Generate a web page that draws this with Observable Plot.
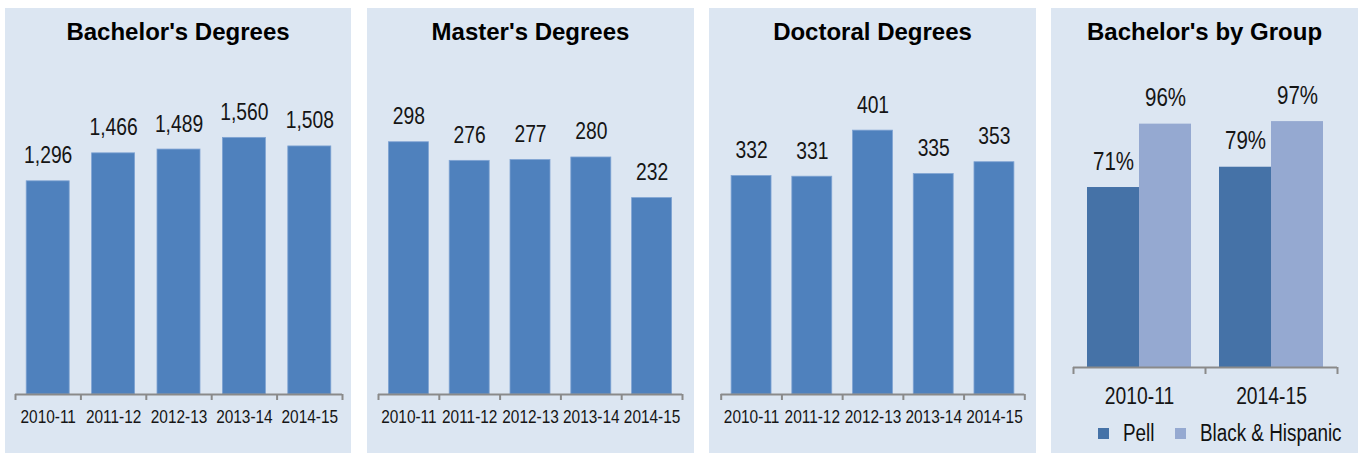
<!DOCTYPE html>
<html><head><meta charset="utf-8">
<script src="https://cdn.jsdelivr.net/npm/d3@7"></script>
<script src="https://cdn.jsdelivr.net/npm/@observablehq/plot@0.6"></script>
<style>
body{margin:0;background:#fff;width:1360px;height:454px;overflow:hidden;position:relative;font-family:"Liberation Sans",Arial,sans-serif}
.panel{position:absolute;top:8px;height:445px;background:#dce6f2}
.title{position:absolute;left:0;right:0;top:12px;text-align:center;font:bold 24px/24px "Liberation Sans",Arial,sans-serif;color:#000;white-space:nowrap}
.chart{position:absolute;left:0;top:55px}
.sw{position:absolute;width:11px;height:11px}
.lt{position:absolute;font-size:23px;line-height:23px;color:#111;white-space:nowrap;transform:scaleX(0.82);transform-origin:0 0}
</style></head>
<body>
<script>
// ---- data ----
const years = ["2010-11", "2011-12", "2012-13", "2013-14", "2014-15"];
const bachelors = [1296, 1466, 1489, 1560, 1508];
const masters = [298, 276, 277, 280, 232];
const doctoral = [332, 331, 401, 335, 353];
const groupYears = ["2010-11", "2014-15"];
const groupNames = ["Pell", "Black & Hispanic"];
const pell = [71, 79];
const blackHispanic = [96, 97];

// ---- style / layout ----
const barColor = "#4f81bd", pellColor = "#4572a7", bhColor = "#95a9d1", axisColor = "#8a8a8a", ink = "#151515";
const fontFam = '"Liberation Sans",Arial,sans-serif';
const narrowFactor = 0.82; // emulate a narrow face

function narrow(svg) {
  svg.querySelectorAll("text").forEach(t => {
    const len = t.getComputedTextLength();
    if (len > 0) {
      t.setAttribute("textLength", (len * narrowFactor).toFixed(2));
      t.setAttribute("lengthAdjust", "spacingAndGlyphs");
    }
  });
}

function makePanel(left, width, title) {
  const p = document.createElement("div");
  p.className = "panel";
  p.style.left = left + "px";
  p.style.width = width + "px";
  const t = document.createElement("div");
  t.className = "title";
  t.textContent = title;
  p.appendChild(t);
  document.body.appendChild(p);
  return p;
}

const simple = [
  {title: "Bachelor's Degrees", left: 5, width: 346, ml: 10, mr: 9, k: 0.1645, ymax: 1950, values: bachelors, inset: 11.2},
  {title: "Master's Degrees", left: 367, width: 327, ml: 11, mr: 12, k: 0.8465, ymax: 380, values: masters, inset: 10.4},
  {title: "Doctoral Degrees", left: 709, width: 327, ml: 11.7, mr: 11.7, k: 0.658, ymax: 490, values: doctoral, inset: 10.4}
];

const svgH = 390, base = 331;
for (const c of simple) {
  const p = makePanel(c.left, c.width, c.title);
  const n = years.length;
  const chart = Plot.plot({
    width: c.width, height: svgH,
    marginLeft: c.ml, marginRight: c.mr, marginTop: 0, marginBottom: svgH - base,
    style: {background: "transparent", overflow: "visible", fontFamily: fontFam},
    x: {domain: [0, n]},
    y: {domain: [0, c.ymax], range: [base, base - c.ymax * c.k], axis: null},
    marks: [
      Plot.rect(c.values, {x1: (d, i) => i, x2: (d, i) => i + 1, y1: 0, y2: d => d, fill: barColor, insetLeft: c.inset, insetRight: c.inset, stroke: "#7fa3d3", strokeWidth: 0.8}),
      Plot.text(c.values, {x: (d, i) => i + 0.5, y: d => d, text: d => d3.format(",")(d), dy: -18, lineAnchor: "bottom", fontSize: 23.5, fill: ink}),
      Plot.ruleY([0], {stroke: axisColor, strokeWidth: 2}),
      Plot.axisX(d3.range(n + 1), {tickSize: 6, tickFormat: () => "", stroke: axisColor, strokeWidth: 2, label: null}),
      Plot.axisX(d3.range(n).map(i => i + 0.5), {tickSize: 0, tickPadding: 15.5, tickFormat: v => years[Math.floor(v)], fontSize: 18.8, fill: ink, label: null})
    ]
  });
  chart.classList.add("chart");
  p.appendChild(chart);
  narrow(chart);
}

// ---- grouped panel ----
{
  const width = 307, h4 = 350, base4 = 304, k = 2.535, ymax = 118, inset = 14;
  const p = makePanel(1051, width, "Bachelor's by Group");
  const n = groupYears.length;
  const chart = Plot.plot({
    width, height: h4,
    marginLeft: 22, marginRight: 21, marginTop: 0, marginBottom: h4 - base4,
    style: {background: "transparent", overflow: "visible", fontFamily: fontFam},
    x: {domain: [0, n]},
    y: {domain: [0, ymax], range: [base4, base4 - ymax * k], axis: null},
    marks: [
      Plot.rect(pell, {x1: (d, i) => i, x2: (d, i) => i + 0.5, y1: 0, y2: d => d, fill: pellColor, insetLeft: inset}),
      Plot.rect(blackHispanic, {x1: (d, i) => i + 0.5, x2: (d, i) => i + 1, y1: 0, y2: d => d, fill: bhColor, insetRight: inset}),
      Plot.text(pell, {x: (d, i) => i + 0.25, dx: inset / 2, y: d => d, text: d => d + "%", dy: -18, lineAnchor: "bottom", fontSize: 25, fill: ink}),
      Plot.text(blackHispanic, {x: (d, i) => i + 0.75, dx: -inset / 2, y: d => d, text: d => d + "%", dy: -18, lineAnchor: "bottom", fontSize: 25, fill: ink}),
      Plot.ruleY([0], {stroke: axisColor, strokeWidth: 2}),
      Plot.axisX(d3.range(n + 1), {tickSize: 7, tickFormat: () => "", stroke: axisColor, strokeWidth: 2, label: null}),
      Plot.axisX(d3.range(n).map(i => i + 0.5), {tickSize: 0, tickPadding: 20, tickFormat: v => groupYears[Math.floor(v)], fontSize: 23.5, fill: ink, label: null})
    ]
  });
  chart.classList.add("chart");
  p.appendChild(chart);
  narrow(chart);
  // legend
  const items = [[groupNames[0], pellColor, 47, 72], [groupNames[1], bhColor, 124, 149]];
  for (const [name, col, sx, tx] of items) {
    const s = document.createElement("div");
    s.className = "sw"; s.style.background = col; s.style.left = sx + "px"; s.style.top = "420px";
    const t = document.createElement("div");
    t.className = "lt"; t.textContent = name; t.style.left = tx + "px"; t.style.top = "414px";
    p.appendChild(s); p.appendChild(t);
  }
}
</script>
</body></html>
